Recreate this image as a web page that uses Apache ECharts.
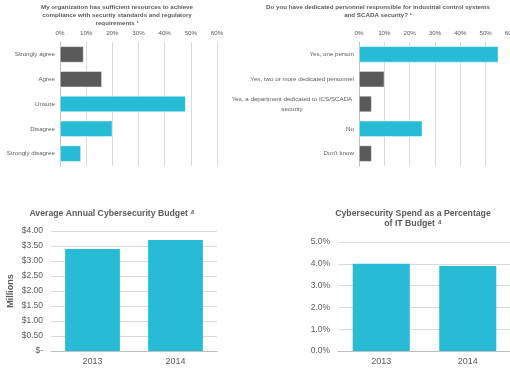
<!DOCTYPE html>
<html><head><meta charset="utf-8">
<script src="https://cdn.jsdelivr.net/npm/echarts@6/dist/echarts.min.js"></script>
<style>html,body{margin:0;padding:0;background:#fff}#c{width:510px;height:382px}</style>
</head><body><div id="c"></div>
<script>
const resCats = ['Strongly agree','Agree','Unsure','Disagree','Strongly disagree'];
const resVals = [9,16,48,20,8];
const resHighlight = [false,false,true,true,true];

const persCats = ['Yes, one person','Yes, two or more dedicated personnel','Yes, a department dedicated to ICS/SCADA\nsecurity','No',"Don't know"];
const persVals = [55,10,5,25,5];
const persHighlight = [true,false,false,true,false];

const years = ['2013','2014'];
const budgetVals = [3.4,3.7];
const pctVals = [4.0,3.9];

const CYAN = '#27BBD6', GRAY = '#5A5A5A', TXT = '#595959', GRID = '#D9D9D9', AX = '#BFBFBF';
const FONT = 'Liberation Sans, Arial, sans-serif';
const SM = 6.2;

function colored(vals, hl){ return vals.map((v,i)=>({value:v,itemStyle:{color:hl[i]?CYAN:GRAY}})); }

const chart = echarts.init(document.getElementById('c'), null, {renderer:'canvas'});
const tStyle = (s,lh)=>({fontSize:s,fontWeight:'bold',color:TXT,fontFamily:FONT,lineHeight:lh});
const option = {
  animation:false,
  textStyle:{fontFamily:FONT},
  title:[
    {text:'My organization has sufficient resources to achieve\ncompliance with security standards and regulatory\nrequirements \u00b9',left:117,top:3,padding:0,textAlign:'center',textStyle:tStyle(SM,8)},
    {text:'Do you have dedicated personnel responsible for industrial control systems\nand SCADA security? \u00b9',left:378,top:3,padding:0,textAlign:'center',textStyle:tStyle(SM,8)},
    {text:'Average Annual Cybersecurity Budget \u2074',left:112,top:208,padding:0,textAlign:'center',textStyle:tStyle(8.7,11)},
    {text:'Cybersecurity Spend as a Percentage\nof IT Budget \u2074',left:413,top:208,padding:0,textAlign:'center',textStyle:tStyle(8.7,10.5)}
  ],
  grid:[
    {left:60,top:42,width:157,height:124,outerBoundsMode:'none'},
    {left:359,top:42,width:152,height:124,outerBoundsMode:'none'},
    {left:51,top:231,width:166,height:120,outerBoundsMode:'none'},
    {left:338,top:242,width:173,height:109,outerBoundsMode:'none'}
  ],
  xAxis:[
    {gridIndex:0,type:'value',min:0,max:60,interval:10,position:'top',
     axisLabel:{formatter:'{value}%',fontSize:SM,color:TXT,margin:6},
     splitLine:{lineStyle:{color:GRID}},axisLine:{show:false},axisTick:{show:false}},
    {gridIndex:1,type:'value',min:0,max:60,interval:10,position:'top',
     axisLabel:{formatter:'{value}%',fontSize:SM,color:TXT,margin:6},
     splitLine:{lineStyle:{color:GRID}},axisLine:{show:false},axisTick:{show:false}},
    {gridIndex:2,type:'category',data:years,
     axisLabel:{fontSize:9,color:TXT,margin:6},axisLine:{lineStyle:{color:AX}},axisTick:{lineStyle:{color:AX},length:3}},
    {gridIndex:3,type:'category',data:years,
     axisLabel:{fontSize:9,color:TXT,margin:6},axisLine:{lineStyle:{color:AX}},axisTick:{lineStyle:{color:AX},length:3}}
  ],
  yAxis:[
    {gridIndex:0,type:'category',data:resCats,inverse:true,
     axisLabel:{fontSize:SM,color:TXT,margin:5},axisLine:{lineStyle:{color:AX}},axisTick:{lineStyle:{color:AX},length:3}},
    {gridIndex:1,type:'category',data:persCats,inverse:true,
     axisLabel:{fontSize:SM,color:TXT,margin:5,
       formatter:v=>v.indexOf('\n')<0?v:v.split('\n').map(s=>'{c|'+s+'}').join('\n'),
       rich:{c:{fontSize:SM,color:TXT,width:124,align:'center',lineHeight:10}}},
     axisLine:{lineStyle:{color:AX}},axisTick:{lineStyle:{color:AX},length:3}},
    {gridIndex:2,type:'value',min:0,max:4,interval:0.5,
     name:'Millions',nameLocation:'middle',nameGap:36,nameRotate:90,
     nameTextStyle:{fontSize:9,fontWeight:'bold',color:TXT},
     axisLabel:{fontSize:8.5,color:TXT,margin:8,formatter:v=>v===0?'$-':'$'+v.toFixed(2)},
     splitLine:{lineStyle:{color:GRID}},axisLine:{show:false},axisTick:{show:false}},
    {gridIndex:3,type:'value',min:0,max:5,interval:1,
     axisLabel:{fontSize:8.5,color:TXT,margin:8,formatter:v=>v.toFixed(1)+'%'},
     splitLine:{lineStyle:{color:GRID}},axisLine:{show:false},axisTick:{show:false}}
  ],
  series:[
    {type:'bar',xAxisIndex:0,yAxisIndex:0,data:colored(resVals,resHighlight),barWidth:'65%',itemStyle:{borderColor:'#fff',borderWidth:0.5}},
    {type:'bar',xAxisIndex:1,yAxisIndex:1,data:colored(persVals,persHighlight),barWidth:'65%',itemStyle:{borderColor:'#fff',borderWidth:0.5}},
    {type:'bar',xAxisIndex:2,yAxisIndex:2,data:budgetVals,barWidth:'66%',itemStyle:{color:CYAN}},
    {type:'bar',xAxisIndex:3,yAxisIndex:3,data:pctVals,barWidth:'66%',itemStyle:{color:CYAN}}
  ]
};
chart.setOption(option);
</script></body></html>
